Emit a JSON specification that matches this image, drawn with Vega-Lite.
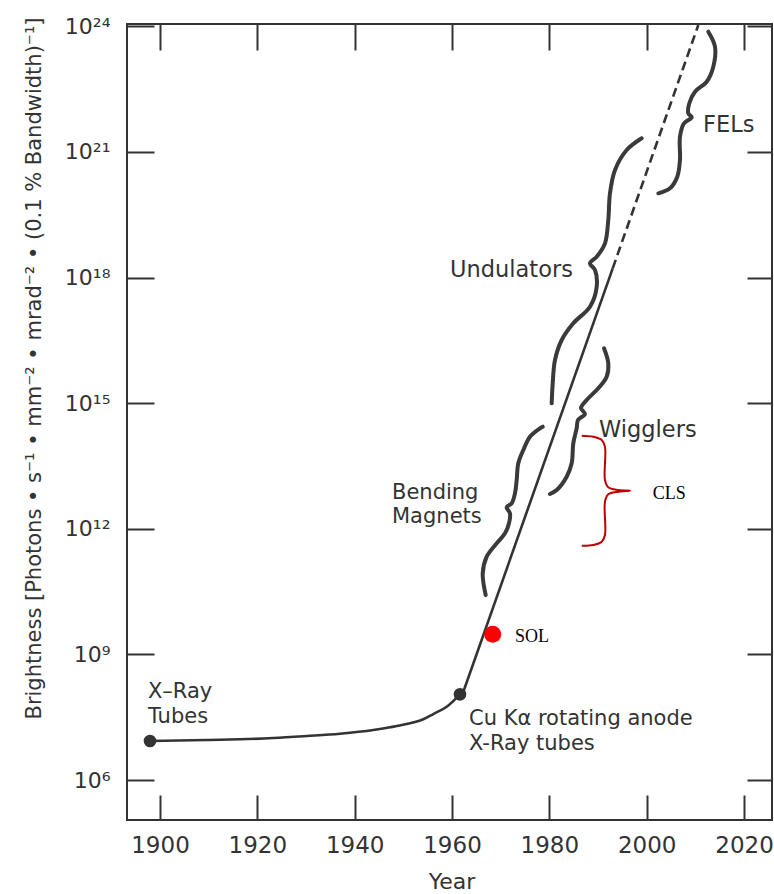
{
  "$schema": "https://vega.github.io/schema/vega-lite/v6.json",
  "width": 645,
  "height": 796,
  "autosize": {"type": "none"},
  "padding": {"left": 127, "top": 24, "right": 2, "bottom": 74},
  "background": "white",
  "config": {"view": {"stroke": "#333333", "strokeWidth": 2}, "font": "DejaVu Sans"},
  "datasets": {
    "tubes": [
      {"year": 1897.95, "exponent": 6.931},
      {"year": 1909.59, "exponent": 6.955},
      {"year": 1916.44, "exponent": 6.972},
      {"year": 1923.28, "exponent": 7.003},
      {"year": 1930.14, "exponent": 7.051},
      {"year": 1936.98, "exponent": 7.106},
      {"year": 1943.83, "exponent": 7.194},
      {"year": 1947.26, "exponent": 7.259},
      {"year": 1950.69, "exponent": 7.337},
      {"year": 1954.10, "exponent": 7.450},
      {"year": 1956.16, "exponent": 7.576},
      {"year": 1958.91, "exponent": 7.751},
      {"year": 1961.64, "exponent": 8.047}
    ],
    "synchrotron": [
      {"year": 1962.15, "exponent": 8.047},
      {"year": 1993.02, "exponent": 18.221}
    ],
    "projection": [
      {"year": 1993.02, "exponent": 18.221},
      {"year": 2010.61, "exponent": 24.032}
    ],
    "sources": [
      {"source": "X-Ray Tubes", "year": 1897.95, "exponent": 6.931},
      {"source": "Cu K-alpha rotating anode", "year": 1961.64, "exponent": 8.047}
    ],
    "sol": [
      {"source": "SOL", "year": 1968.36, "exponent": 9.48}
    ],
    "braces": [
      {"group": "Bending Magnets", "i": 1, "year": 1966.92, "exponent": 10.418},
      {"group": "Bending Magnets", "i": 2, "year": 1966.31, "exponent": 10.937},
      {"group": "Bending Magnets", "i": 3, "year": 1967.13, "exponent": 11.333},
      {"group": "Bending Magnets", "i": 4, "year": 1969.18, "exponent": 11.653},
      {"group": "Bending Magnets", "i": 5, "year": 1970.89, "exponent": 11.892},
      {"group": "Bending Magnets", "i": 6, "year": 1971.71, "exponent": 12.131},
      {"group": "Bending Magnets", "i": 7, "year": 1971.91, "exponent": 12.37},
      {"group": "Bending Magnets", "i": 8, "year": 1971.24, "exponent": 12.513},
      {"group": "Bending Magnets", "i": 9, "year": 1972.26, "exponent": 12.608},
      {"group": "Bending Magnets", "i": 10, "year": 1972.94, "exponent": 12.847},
      {"group": "Bending Magnets", "i": 11, "year": 1973.29, "exponent": 13.165},
      {"group": "Bending Magnets", "i": 12, "year": 1973.62, "exponent": 13.564},
      {"group": "Bending Magnets", "i": 13, "year": 1974.65, "exponent": 13.881},
      {"group": "Bending Magnets", "i": 14, "year": 1976.02, "exponent": 14.199},
      {"group": "Bending Magnets", "i": 15, "year": 1978.08, "exponent": 14.4},
      {"group": "Bending Magnets", "i": 16, "year": 1978.63, "exponent": 14.438},
      {"group": "Wigglers", "i": 1, "year": 1991.23, "exponent": 16.31},
      {"group": "Wigglers", "i": 2, "year": 1992.11, "exponent": 15.952},
      {"group": "Wigglers", "i": 3, "year": 1991.78, "exponent": 15.632},
      {"group": "Wigglers", "i": 4, "year": 1990.06, "exponent": 15.355},
      {"group": "Wigglers", "i": 5, "year": 1987.67, "exponent": 15.076},
      {"group": "Wigglers", "i": 6, "year": 1986.5, "exponent": 14.884},
      {"group": "Wigglers", "i": 7, "year": 1987.32, "exponent": 14.741},
      {"group": "Wigglers", "i": 8, "year": 1985.89, "exponent": 14.598},
      {"group": "Wigglers", "i": 9, "year": 1985.62, "exponent": 14.407},
      {"group": "Wigglers", "i": 10, "year": 1984.92, "exponent": 14.041},
      {"group": "Wigglers", "i": 11, "year": 1984.59, "exponent": 13.564},
      {"group": "Wigglers", "i": 12, "year": 1983.56, "exponent": 13.244},
      {"group": "Wigglers", "i": 13, "year": 1981.51, "exponent": 12.926},
      {"group": "Wigglers", "i": 14, "year": 1980.13, "exponent": 12.831},
      {"group": "Undulators", "i": 1, "year": 1998.97, "exponent": 21.326},
      {"group": "Undulators", "i": 2, "year": 1995.89, "exponent": 21.046},
      {"group": "Undulators", "i": 3, "year": 1993.49, "exponent": 20.569},
      {"group": "Undulators", "i": 4, "year": 1992.46, "exponent": 20.012},
      {"group": "Undulators", "i": 5, "year": 1992.11, "exponent": 19.374},
      {"group": "Undulators", "i": 6, "year": 1991.43, "exponent": 18.818},
      {"group": "Undulators", "i": 7, "year": 1989.73, "exponent": 18.498},
      {"group": "Undulators", "i": 8, "year": 1988.35, "exponent": 18.34},
      {"group": "Undulators", "i": 9, "year": 1989.38, "exponent": 18.18},
      {"group": "Undulators", "i": 10, "year": 1989.73, "exponent": 17.782},
      {"group": "Undulators", "i": 11, "year": 1988.35, "exponent": 17.304},
      {"group": "Undulators", "i": 12, "year": 1984.92, "exponent": 16.907},
      {"group": "Undulators", "i": 13, "year": 1982.54, "exponent": 16.509},
      {"group": "Undulators", "i": 14, "year": 1981.16, "exponent": 16.031},
      {"group": "Undulators", "i": 15, "year": 1980.69, "exponent": 15.474},
      {"group": "Undulators", "i": 16, "year": 1980.48, "exponent": 14.997},
      {"group": "FELs", "i": 1, "year": 2012.66, "exponent": 23.872},
      {"group": "FELs", "i": 2, "year": 2014.04, "exponent": 23.513},
      {"group": "FELs", "i": 3, "year": 2013.69, "exponent": 23.036},
      {"group": "FELs", "i": 4, "year": 2012.33, "exponent": 22.677},
      {"group": "FELs", "i": 5, "year": 2009.93, "exponent": 22.439},
      {"group": "FELs", "i": 6, "year": 2008.76, "exponent": 22.162},
      {"group": "FELs", "i": 7, "year": 2008.55, "exponent": 21.923},
      {"group": "FELs", "i": 8, "year": 2009.25, "exponent": 21.827},
      {"group": "FELs", "i": 9, "year": 2007.67, "exponent": 21.684},
      {"group": "FELs", "i": 10, "year": 2006.84, "exponent": 21.364},
      {"group": "FELs", "i": 11, "year": 2006.84, "exponent": 20.807},
      {"group": "FELs", "i": 12, "year": 2006.29, "exponent": 20.409},
      {"group": "FELs", "i": 13, "year": 2004.79, "exponent": 20.132},
      {"group": "FELs", "i": 14, "year": 2002.39, "exponent": 20.012}
    ],
    "cls": [
      {"i": 1, "year": 1986.65, "exponent": 14.223},
      {"i": 2, "year": 1989.03, "exponent": 14.199},
      {"i": 3, "year": 1990.76, "exponent": 14.12},
      {"i": 4, "year": 1991.43, "exponent": 13.96},
      {"i": 5, "year": 1991.43, "exponent": 13.165},
      {"i": 6, "year": 1992.11, "exponent": 12.991},
      {"i": 7, "year": 1994.17, "exponent": 12.926},
      {"i": 8, "year": 1996.57, "exponent": 12.909},
      {"i": 9, "year": 1994.17, "exponent": 12.886},
      {"i": 10, "year": 1992.11, "exponent": 12.823},
      {"i": 11, "year": 1991.43, "exponent": 12.647},
      {"i": 12, "year": 1991.43, "exponent": 11.851},
      {"i": 13, "year": 1990.76, "exponent": 11.691},
      {"i": 14, "year": 1989.03, "exponent": 11.613},
      {"i": 15, "year": 1986.65, "exponent": 11.596}
    ],
    "multiLabels": [
      {"label": "X–Ray\nTubes", "year": 1897.53, "exponent": 7.953},
      {"label": "Cu Kα rotating anode\nX-Ray tubes", "year": 1963.49, "exponent": 7.309},
      {"label": "Bending\nMagnets", "year": 1947.67, "exponent": 12.713}
    ],
    "labels": [
      {"label": "Wigglers", "year": 1990.2, "exponent": 14.199},
      {"label": "Undulators", "year": 1959.59, "exponent": 18.02},
      {"label": "FELs", "year": 2011.57, "exponent": 21.483}
    ],
    "serifLabels": [
      {"label": "SOL", "year": 1972.94, "exponent": 9.303},
      {"label": "CLS", "year": 2001.23, "exponent": 12.704}
    ]
  },
  "layer": [
    {
      "data": {"name": "tubes"},
      "mark": {"type": "line", "interpolate": "monotone", "color": "#333333", "strokeWidth": 2.6, "clip": true},
      "encoding": {
        "x": {
          "field": "year", "type": "quantitative",
          "scale": {"domain": [1893.22, 2025.75], "nice": false, "zero": false},
          "axis": {
            "orient": "bottom", "values": [1900, 1920, 1940, 1960, 1980, 2000, 2020],
            "format": "d", "domain": false, "grid": false,
            "tickSize": -25, "tickWidth": 2, "tickColor": "#333333",
            "labelFont": "DejaVu Sans", "labelFontSize": 23, "labelColor": "#333333", "labelPadding": 39,
            "title": "Year", "titleFont": "DejaVu Sans", "titleFontSize": 22, "titleFontWeight": "normal",
            "titleColor": "#333333", "titleX": 324.5, "titleY": 68, "titleBaseline": "alphabetic", "titleAlign": "center"
          }
        },
        "y": {
          "field": "exponent", "type": "quantitative",
          "scale": {"domain": [5.045, 24.056], "nice": false, "zero": false},
          "axis": {
            "orient": "left", "values": [6, 9, 12, 15, 18, 21, 24],
            "labelExpr": "'10' + (datum.value == 6 ? '⁶' : datum.value == 9 ? '⁹' : datum.value == 12 ? '¹²' : datum.value == 15 ? '¹⁵' : datum.value == 18 ? '¹⁸' : datum.value == 21 ? '²¹' : '²⁴')",
            "domain": false, "grid": false,
            "tickSize": -27, "tickWidth": 2, "tickColor": "#333333",
            "labelFont": "DejaVu Sans", "labelFontSize": 22, "labelColor": "#333333", "labelPadding": 44,
            "title": "Brightness [Photons • s⁻¹ • mm⁻² • mrad⁻² • (0.1 % Bandwidth)⁻¹]",
            "titleFont": "DejaVu Sans", "titleFontSize": 21, "titleFontWeight": "normal", "titleColor": "#333333",
            "titleX": -93, "titleY": 344, "titleAngle": -90, "titleAlign": "center", "titleBaseline": "middle"
          }
        }
      }
    },
    {
      "data": {"name": "synchrotron"},
      "mark": {"type": "line", "color": "#333333", "strokeWidth": 2.6, "clip": true},
      "encoding": {
        "x": {"field": "year", "type": "quantitative", "scale": {"domain": [1893.22, 2025.75], "nice": false, "zero": false}, "axis": null},
        "y": {"field": "exponent", "type": "quantitative", "scale": {"domain": [5.045, 24.056], "nice": false, "zero": false}, "axis": null}
      }
    },
    {
      "data": {"name": "projection"},
      "mark": {"type": "line", "color": "#333333", "strokeWidth": 2.6, "strokeDash": [9, 5], "clip": true},
      "encoding": {
        "x": {"field": "year", "type": "quantitative", "scale": {"domain": [1893.22, 2025.75], "nice": false, "zero": false}, "axis": null},
        "y": {"field": "exponent", "type": "quantitative", "scale": {"domain": [5.045, 24.056], "nice": false, "zero": false}, "axis": null}
      }
    },
    {
      "data": {"name": "braces"},
      "mark": {"type": "line", "interpolate": "catmull-rom", "color": "#3a3a3a", "strokeWidth": 4, "strokeCap": "round", "clip": true},
      "encoding": {
        "x": {"field": "year", "type": "quantitative", "scale": {"domain": [1893.22, 2025.75], "nice": false, "zero": false}, "axis": null},
        "y": {"field": "exponent", "type": "quantitative", "scale": {"domain": [5.045, 24.056], "nice": false, "zero": false}, "axis": null},
        "detail": {"field": "group", "type": "nominal"},
        "order": {"field": "i", "type": "quantitative"}
      }
    },
    {
      "data": {"name": "cls"},
      "mark": {"type": "line", "interpolate": "catmull-rom", "color": "#c00000", "strokeWidth": 2, "clip": true},
      "encoding": {
        "x": {"field": "year", "type": "quantitative", "scale": {"domain": [1893.22, 2025.75], "nice": false, "zero": false}, "axis": null},
        "y": {"field": "exponent", "type": "quantitative", "scale": {"domain": [5.045, 24.056], "nice": false, "zero": false}, "axis": null},
        "order": {"field": "i", "type": "quantitative"}
      }
    },
    {
      "data": {"name": "sources"},
      "mark": {"type": "point", "filled": true, "opacity": 1, "color": "#333333", "size": 160},
      "encoding": {
        "x": {"field": "year", "type": "quantitative", "scale": {"domain": [1893.22, 2025.75], "nice": false, "zero": false}, "axis": null},
        "y": {"field": "exponent", "type": "quantitative", "scale": {"domain": [5.045, 24.056], "nice": false, "zero": false}, "axis": null}
      }
    },
    {
      "data": {"name": "sol"},
      "mark": {"type": "point", "filled": true, "opacity": 1, "color": "#ff0000", "size": 290},
      "encoding": {
        "x": {"field": "year", "type": "quantitative", "scale": {"domain": [1893.22, 2025.75], "nice": false, "zero": false}, "axis": null},
        "y": {"field": "exponent", "type": "quantitative", "scale": {"domain": [5.045, 24.056], "nice": false, "zero": false}, "axis": null}
      }
    },
    {
      "data": {"name": "multiLabels"},
      "mark": {"type": "text", "align": "left", "baseline": "alphabetic", "font": "DejaVu Sans", "fontSize": 21, "color": "#333333", "lineBreak": "\n", "lineHeight": 24.5},
      "encoding": {
        "x": {"field": "year", "type": "quantitative", "scale": {"domain": [1893.22, 2025.75], "nice": false, "zero": false}, "axis": null},
        "y": {"field": "exponent", "type": "quantitative", "scale": {"domain": [5.045, 24.056], "nice": false, "zero": false}, "axis": null},
        "text": {"field": "label", "type": "nominal"}
      }
    },
    {
      "data": {"name": "labels"},
      "mark": {"type": "text", "align": "left", "baseline": "alphabetic", "font": "DejaVu Sans", "fontSize": 22.5, "color": "#333333"},
      "encoding": {
        "x": {"field": "year", "type": "quantitative", "scale": {"domain": [1893.22, 2025.75], "nice": false, "zero": false}, "axis": null},
        "y": {"field": "exponent", "type": "quantitative", "scale": {"domain": [5.045, 24.056], "nice": false, "zero": false}, "axis": null},
        "text": {"field": "label", "type": "nominal"}
      }
    },
    {
      "data": {"name": "serifLabels"},
      "mark": {"type": "text", "align": "left", "baseline": "alphabetic", "font": "Liberation Serif", "fontSize": 18, "color": "#000000"},
      "encoding": {
        "x": {"field": "year", "type": "quantitative", "scale": {"domain": [1893.22, 2025.75], "nice": false, "zero": false}, "axis": null},
        "y": {"field": "exponent", "type": "quantitative", "scale": {"domain": [5.045, 24.056], "nice": false, "zero": false}, "axis": null},
        "text": {"field": "label", "type": "nominal"}
      }
    },
    {
      "data": {"name": "sources"},
      "mark": {"type": "point", "opacity": 0},
      "encoding": {
        "x": {
          "field": "year", "type": "quantitative",
          "scale": {"domain": [1893.22, 2025.75], "nice": false, "zero": false},
          "axis": {"orient": "top", "values": [1900, 1920, 1940, 1960, 1980, 2000, 2020], "labels": false, "domain": false, "grid": false, "tickSize": -26, "tickWidth": 2, "tickColor": "#333333", "title": null}
        },
        "y": {
          "field": "exponent", "type": "quantitative",
          "scale": {"domain": [5.045, 24.056], "nice": false, "zero": false},
          "axis": {"orient": "right", "values": [6, 9, 12, 15, 18, 21, 24], "labels": false, "domain": false, "grid": false, "tickSize": -25, "tickWidth": 2, "tickColor": "#333333", "title": null}
        }
      }
    }
  ],
  "resolve": {"axis": {"x": "independent", "y": "independent"}}
}
